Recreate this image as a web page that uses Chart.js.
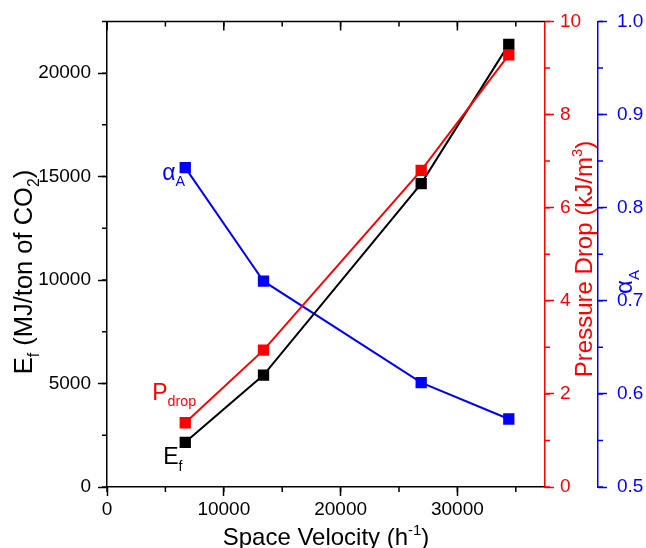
<!DOCTYPE html>
<html>
<head>
<meta charset="utf-8">
<script src="https://cdn.jsdelivr.net/npm/chart.js@4.4.1/dist/chart.umd.min.js"></script>
<style>
html, body { margin: 0; padding: 0; background: #fff; }
#wrap { width: 646px; height: 548px; }
</style>
</head>
<body>
<div id="wrap"><canvas id="graph"></canvas></div>
<script>
// space velocity (1/h) and the three measured quantities
var velocity = [6700, 13400, 26900, 34400];
var energy = [2160, 5410, 14660, 21390];          // MJ/ton CO2
var pressureDrop = [1.38, 2.94, 6.80, 9.28];      // kJ/m3
var alpha = [0.843, 0.721, 0.612, 0.573];

var xTicks = [0, 10000, 20000, 30000];
var energyTicks = [0, 5000, 10000, 15000, 20000];
var pressureTicks = [0, 2, 4, 6, 8, 10];
var alphaTicks = [0.5, 0.6, 0.7, 0.8, 0.9, 1.0];

var FONT = "'Liberation Sans', Arial, sans-serif";
var RED = "#ff0000";
var BLUE = "#0000ff";

function pts(ys) {
    return velocity.map(function (v, i) { return { x: v, y: ys[i] }; });
}

function fixTicks(list) {
    return function (scale) {
        scale.ticks = list.map(function (v) { return { value: v }; });
    };
}

// text with sub/superscripts, optionally rotated
function drawRich(ctx, parts, x, y, size, color, angle, align) {
    ctx.save();
    ctx.translate(x, y);
    ctx.rotate(angle || 0);
    ctx.fillStyle = color;
    ctx.textBaseline = "alphabetic";
    ctx.textAlign = "left";
    var w = 0;
    parts.forEach(function (p) {
        var s = p.sub || p.sup ? size * 0.62 : size;
        ctx.font = s + "px " + FONT;
        p.w = ctx.measureText(p.t).width;
        w += p.w;
    });
    var cx = align === "center" ? -w / 2 : 0;
    parts.forEach(function (p) {
        var s = p.sub || p.sup ? size * 0.62 : size;
        ctx.font = s + "px " + FONT;
        var dy = p.sub ? size * 0.28 : (p.sup ? -size * 0.42 : 0);
        ctx.fillText(p.t, cx, dy);
        cx += p.w;
    });
    ctx.restore();
}

function minorTicks(ctx, scale, step, len, color, side) {
    ctx.save();
    ctx.strokeStyle = color;
    ctx.lineWidth = 1.5;
    ctx.beginPath();
    for (var v = scale.min; v <= scale.max + 1e-9; v += step) {
        var p = scale.getPixelForValue(v);
        if (side === "bottom") { ctx.moveTo(p, scale.top); ctx.lineTo(p, scale.top + len); }
        else if (side === "top") { ctx.moveTo(p, scale.chart.chartArea.top); ctx.lineTo(p, scale.chart.chartArea.top + len); }
        else if (side === "left") { ctx.moveTo(scale.right, p); ctx.lineTo(scale.right - len, p); }
        else { ctx.moveTo(scale.left, p); ctx.lineTo(scale.left + len, p); }
    }
    ctx.stroke();
    ctx.restore();
}

var frame = {
    id: "frame",
    afterDraw: function (chart) {
        var ctx = chart.ctx, a = chart.chartArea, s = chart.scales;
        // top border with inward ticks
        ctx.save();
        ctx.strokeStyle = "#000";
        ctx.lineWidth = 1.5;
        ctx.beginPath();
        ctx.moveTo(a.left, a.top);
        ctx.lineTo(a.right, a.top);
        ctx.stroke();
        ctx.restore();
        minorTicks(ctx, s.x, 10000, 9, "#000", "top");
        minorTicks(ctx, s.x, 5000, 5, "#000", "top");
        minorTicks(ctx, s.x, 5000, 5, "#000", "bottom");
        minorTicks(ctx, s.y, 2500, 5, "#000", "left");
        minorTicks(ctx, s.yP, 1, 5, RED, "right");
        minorTicks(ctx, s.yA, 0.05, 5, BLUE, "right");

        // axis titles
        drawRich(ctx, [{ t: "Space Velocity (h" }, { t: "-1", sup: true }, { t: ")" }],
            326, 545, 24, "#000", 0, "center");
        drawRich(ctx, [{ t: "E" }, { t: "f", sub: true }, { t: " (MJ/ton of CO" }, { t: "2", sub: true }, { t: ")" }],
            32, 272, 25.5, "#000", -Math.PI / 2, "center");
        drawRich(ctx, [{ t: "Pressure Drop (kJ/m" }, { t: "3", sup: true }, { t: ")" }],
            592, 259, 24, RED, -Math.PI / 2, "center");
        drawRich(ctx, [{ t: "\u03b1" }, { t: "A", sub: true }],
            632, 282, 24, BLUE, -Math.PI / 2, "center");

        // series labels next to the first point of each line
        var e0 = chart.getDatasetMeta(0).data[0];
        var p0 = chart.getDatasetMeta(1).data[0];
        var a0 = chart.getDatasetMeta(2).data[0];
        drawRich(ctx, [{ t: "E" }, { t: "f", sub: true }], e0.x - 22, e0.y + 22, 23, "#000");
        drawRich(ctx, [{ t: "P" }, { t: "drop", sub: true }], p0.x - 33, p0.y - 23, 23, RED);
        drawRich(ctx, [{ t: "\u03b1" }, { t: "A", sub: true }], a0.x - 23, a0.y + 12, 23, BLUE);
    }
};

function setWidth(w) { return function (scale) { scale.width = w; }; }

var ctx = document.getElementById("graph").getContext("2d");

var graph = new Chart(ctx, {
    type: "line",
    data: {
        datasets: [{
            label: "Ef",
            data: pts(energy),
            yAxisID: "y",
            borderColor: "#000",
            backgroundColor: "#000",
            order: 2
        }, {
            label: "Pdrop",
            data: pts(pressureDrop),
            yAxisID: "yP",
            borderColor: RED,
            backgroundColor: RED,
            order: 1
        }, {
            label: "alphaA",
            data: pts(alpha),
            yAxisID: "yA",
            borderColor: BLUE,
            backgroundColor: BLUE,
            order: 3
        }]
    },
    options: {
        responsive: true,
        maintainAspectRatio: false,
        animation: false,
        layout: { padding: { top: 21, left: 0, right: 0, bottom: 0 } },
        elements: {
            line: { borderWidth: 2, tension: 0 },
            point: { pointStyle: "rect", radius: 8, borderWidth: 0, hoverRadius: 8 }
        },
        plugins: { legend: { display: false }, tooltip: { enabled: false } },
        scales: {
            x: {
                type: "linear",
                position: "bottom",
                min: 0,
                max: 37500,
                afterBuildTicks: fixTicks(xTicks),
                afterFit: function (scale) { scale.height = 61; },
                grid: { drawOnChartArea: false, tickLength: 9, tickWidth: 1.5, color: "#000" },
                border: { color: "#000", width: 1.5 },
                ticks: {
                    color: "#000", padding: 2, maxRotation: 0,
                    font: { family: FONT, size: 19 },
                    callback: function (v) { return String(v); }
                }
            },
            y: {
                position: "left",
                min: 0,
                max: 22500,
                afterBuildTicks: fixTicks(energyTicks),
                afterFit: setWidth(107),
                grid: { drawOnChartArea: false, tickLength: 9, tickWidth: 1.5, color: "#000" },
                border: { color: "#000", width: 1.5 },
                ticks: {
                    color: "#000", padding: 7,
                    font: { family: FONT, size: 19 },
                    callback: function (v) { return String(v); }
                }
            },
            yP: {
                position: "right",
                min: 0,
                max: 10,
                afterBuildTicks: fixTicks(pressureTicks),
                afterFit: setWidth(53),
                grid: { drawOnChartArea: false, tickLength: 9, tickWidth: 1.5, color: RED },
                border: { color: RED, width: 1.5 },
                ticks: {
                    color: RED, padding: 6,
                    font: { family: FONT, size: 19 },
                    callback: function (v) { return String(v); }
                }
            },
            yA: {
                position: "right",
                min: 0.5,
                max: 1.0,
                afterBuildTicks: fixTicks(alphaTicks),
                afterFit: setWidth(48),
                grid: { drawOnChartArea: false, tickLength: 9, tickWidth: 1.5, color: BLUE },
                border: { color: BLUE, width: 1.5 },
                ticks: {
                    color: BLUE, padding: 10,
                    font: { family: FONT, size: 19 },
                    callback: function (v) { return v.toFixed(1); }
                }
            }
        }
    },
    plugins: [frame]
});
</script>
</body>
</html>
